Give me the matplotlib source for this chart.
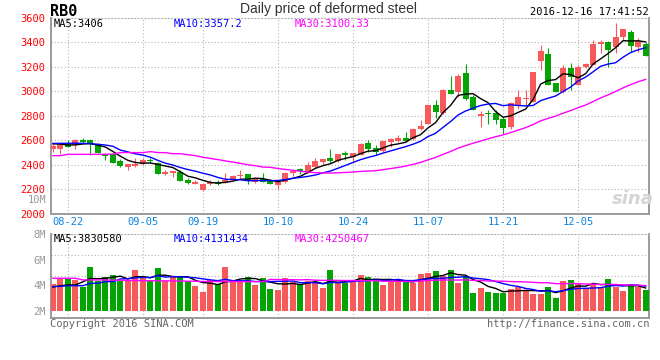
import numpy as np
import pandas as pd
import matplotlib
matplotlib.use('Agg')
import matplotlib.pyplot as plt

# trading days shown: 2016-08-18 .. 2016-12-16 (exchange closed for mid-autumn and national day)
holidays = ['2016-09-15', '2016-09-16', '2016-10-03', '2016-10-04',
            '2016-10-05', '2016-10-06', '2016-10-07']
days = pd.bdate_range('2016-08-18', '2016-12-16')
days = days[~days.isin(pd.to_datetime(holidays))]

tick_labels = ['08-22', '09-05', '09-19', '10-10', '10-24', '11-07', '11-21', '12-05']

opens = [2527, 2527, 2568, 2560, 2603, 2600, 2568, 2492, 2486, 2429,
         2383, 2388, 2404, 2437, 2418, 2325, 2333, 2341, 2273, 2246,
         2192, 2241, 2262, 2251, 2279, 2309, 2322, 2260, 2287, 2276,
         2232, 2262, 2336, 2364, 2342, 2383, 2423, 2456, 2429, 2497,
         2464, 2483, 2576, 2538, 2511, 2587, 2595, 2620, 2609, 2691,
         2731, 2887, 2824, 3009, 2996, 3148, 2952, 2800, 2824, 2824,
         2778, 2710, 2887, 2941, 2916, 3248, 3303, 3066, 2993, 3194,
         3052, 3197, 3216, 3390, 3401, 3366, 3447, 3488, 3366, 3385]
highs = [2573, 2570, 2600, 2614, 2620, 2614, 2576, 2495, 2490, 2451,
         2404, 2459, 2459, 2459, 2420, 2355, 2350, 2355, 2295, 2279,
         2243, 2279, 2279, 2333, 2316, 2355, 2325, 2292, 2330, 2285,
         2262, 2340, 2352, 2377, 2421, 2453, 2447, 2527, 2490, 2511,
         2500, 2581, 2600, 2565, 2597, 2622, 2641, 2668, 2702, 2764,
         2892, 2933, 3022, 3124, 3140, 3222, 2968, 2838, 2846, 2846,
         2797, 2914, 3009, 3009, 3160, 3379, 3352, 3068, 3216, 3229,
         3216, 3229, 3420, 3420, 3412, 3556, 3507, 3502, 3439, 3401]
lows = [2505, 2486, 2542, 2532, 2581, 2483, 2498, 2443, 2416, 2383,
        2355, 2383, 2398, 2418, 2326, 2315, 2300, 2266, 2241, 2244,
        2183, 2232, 2232, 2250, 2277, 2295, 2246, 2251, 2258, 2241,
        2202, 2255, 2306, 2328, 2334, 2375, 2396, 2415, 2427, 2442,
        2429, 2481, 2505, 2478, 2509, 2546, 2587, 2590, 2601, 2688,
        2731, 2783, 2819, 2979, 2955, 2930, 2851, 2710, 2737, 2731,
        2655, 2696, 2860, 2887, 2910, 3175, 3050, 2993, 2990, 3012,
        3050, 3189, 3214, 3311, 3202, 3311, 3420, 3325, 3325, 3292]
closes = [2551, 2568, 2546, 2600, 2587, 2570, 2500, 2472, 2418, 2391,
          2404, 2410, 2443, 2429, 2328, 2342, 2347, 2268, 2251, 2260,
          2241, 2262, 2243, 2279, 2311, 2317, 2268, 2281, 2260, 2243,
          2260, 2337, 2350, 2347, 2396, 2429, 2445, 2429, 2486, 2478,
          2497, 2568, 2530, 2505, 2592, 2609, 2619, 2598, 2691, 2715,
          2887, 2832, 3015, 2979, 3126, 2938, 2851, 2813, 2813, 2764,
          2704, 2906, 2955, 2949, 3156, 3333, 3052, 2993, 3189, 3120,
          3202, 3221, 3387, 3401, 3338, 3442, 3507, 3371, 3412, 3292]
# volume, millions
volume = [4.10, 4.47, 4.47, 4.42, 3.90, 5.43, 4.34, 4.65, 4.81, 4.34,
          4.34, 5.19, 4.73, 4.34, 5.35, 4.34, 4.65, 4.65, 4.34, 3.95,
          3.48, 4.42, 4.10, 5.43, 4.26, 4.26, 4.65, 4.03, 4.57, 3.71,
          3.64, 4.57, 4.26, 4.10, 4.34, 4.18, 3.79, 5.20, 4.24, 4.16,
          4.29, 4.81, 4.65, 4.49, 4.03, 4.34, 4.42, 4.34, 4.16, 4.88,
          4.96, 5.12, 4.73, 5.20, 4.18, 4.73, 3.40, 3.79, 3.48, 3.40,
          3.40, 3.71, 3.87, 3.64, 3.32, 3.32, 3.87, 3.01, 4.34, 4.42,
          4.10, 3.79, 4.10, 3.87, 4.49, 3.87, 3.56, 4.03, 3.87, 3.64]

# moving-average values for the first days (history not shown)
ma5_head = [2572, 2570, 2562, 2563]
ma10_head = [2575, 2576, 2576, 2577, 2576, 2573, 2568, 2562, 2552]
ma30_head = [2475, 2475, 2486, 2486, 2486, 2486, 2486, 2486, 2488, 2500,
             2500, 2500, 2500, 2508, 2500, 2500, 2491, 2491, 2483, 2475,
             2462, 2452, 2443, 2432, 2423, 2412, 2401, 2393, 2382]
vma5_head = [3.87, 3.97, 4.03, 4.03]
vma10_head = [3.90, 3.92, 3.97, 3.97, 3.97, 4.16, 4.16, 4.29, 4.29]
vma30_head = [4.55, 4.55, 4.55, 4.55, 4.42, 4.42, 4.42, 4.42, 4.40, 4.40,
              4.38, 4.38, 4.36, 4.36, 4.35, 4.35, 4.34, 4.34, 4.32, 4.32,
              4.30, 4.30, 4.30, 4.30, 4.29, 4.29, 4.29, 4.29, 4.29]


def moving_avg(vals, n, head):
    s = pd.Series(vals, dtype=float).rolling(n).mean().to_numpy()
    s[:n - 1] = head
    return s


RED = '#f65a5a'
GREEN = '#04a404'
GRID = '#b4b4b4'
MONO = 'DejaVu Sans Mono'
W, H = 660, 360


def px(x, y):
    return x / W, 1 - y / H


x = np.arange(len(closes))
o = np.array(opens, dtype=float)
c = np.array(closes, dtype=float)
up = c > o
colors = np.where(up, RED, GREEN)

fig = plt.figure(figsize=(6.6, 3.6), dpi=100, facecolor='white')
ax = fig.add_axes([51 / W, 1 - 213.8 / H, 598 / W, 195.8 / H])
axv = fig.add_axes([51 / W, 1 - 318 / H, 598 / W, 84 / H])

# candles
ax.vlines(x, lows, highs, colors=colors, linewidth=0.8, zorder=3)
body = np.maximum(np.abs(c - o), 6)
ax.bar(x, body, bottom=np.minimum(o, c), width=0.8, color=colors,
       linewidth=0, zorder=4)

ax.plot(x, moving_avg(closes, 5, ma5_head), color='black', lw=1.0, zorder=5)
ax.plot(x, moving_avg(closes, 10, ma10_head), color='#0000ff', lw=1.0, zorder=5)
ax.plot(x, moving_avg(closes, 30, ma30_head), color='#ff00ff', lw=1.0, zorder=5)

# volume
axv.bar(x, np.array(volume) - 2, bottom=2, width=0.8, color=colors,
        linewidth=0, zorder=3)
axv.plot(x, moving_avg(volume, 5, vma5_head), color='black', lw=1.0, zorder=5)
axv.plot(x, moving_avg(volume, 10, vma10_head), color='#0000ff', lw=1.0, zorder=5)
axv.plot(x, moving_avg(volume, 30, vma30_head), color='#ff00ff', lw=1.0, zorder=5)

labels = list(days.strftime('%m-%d'))
tick_pos = [labels.index(t) for t in tick_labels]

for a in (ax, axv):
    a.set_xlim(-0.25, len(closes) - 0.55)
    a.set_xticks(tick_pos)
    for v in tick_pos:
        a.axvline(v, color=GRID, lw=0.8, ls=(0, (1, 2)), zorder=1)
    for side in ('left', 'right', 'bottom'):
        a.spines[side].set_color('#9a9a9a')
        a.spines[side].set_linewidth(1.4)
    a.spines['top'].set_color(GRID)
    a.spines['top'].set_linewidth(0.8)
    a.spines['top'].set_linestyle((0, (1, 2)))
    a.tick_params(length=0)

ax.set_ylim(2000, 3600)
ax.set_yticks(range(2000, 3601, 200))
for v in range(2200, 3401, 200):
    ax.axhline(v, color=GRID, lw=0.8, ls=(0, (1, 2)), zorder=1)
ax.tick_params(axis='y', labelcolor='#ff0000', labelsize=7.5, pad=4)
ax.tick_params(axis='x', labelcolor='#0a84e0', labelsize=7.5, pad=2.5)
ax.set_xticklabels(tick_labels)
for t in ax.get_xticklabels() + ax.get_yticklabels():
    t.set_fontfamily(MONO)

axv.set_ylim(2 - 7 / 12.83, 8)
axv.set_yticks([2, 4, 6, 8])
axv.set_yticklabels(['2M', '4M', '6M', '8M'])
axv.tick_params(axis='y', labelcolor='#999999', labelsize=7.5, pad=4)
axv.set_xticklabels([])
for t in axv.get_yticklabels():
    t.set_fontfamily(MONO)
for f in (0.25, 0.5, 0.75):
    axv.axhline(2 - 7 / 12.83 + f * (6 + 7 / 12.83), color=GRID, lw=0.8,
                ls=(0, (1, 2)), zorder=1)

# texts
fig.text(*px(329, 9), 'Daily price of deformed steel', ha='center', va='center',
         fontsize=10, color='#333333', family='Liberation Sans')
fig.text(*px(50, 11), 'RB0', ha='left', va='center', fontsize=11,
         fontweight='bold', family=MONO, color='black')
fig.text(*px(649, 12), '2016-12-16 17:41:52', ha='right', va='center',
         fontsize=7.5, family=MONO, color='black')

for xp, s, col in [(54, 'MA5:3406', 'black'), (174, 'MA10:3357.2', '#0000ff'),
                   (295, 'MA30:3100.33', '#ff00ff')]:
    fig.text(*px(xp, 24), s, ha='left', va='center', fontsize=7.5, family=MONO, color=col)
for xp, s, col in [(54, 'MA5:3830580', 'black'), (174, 'MA10:4131434', '#0000ff'),
                   (295, 'MA30:4250467', '#ff00ff')]:
    fig.text(*px(xp, 239), s, ha='left', va='center', fontsize=7.5, family=MONO, color=col)

fig.text(*px(46, 200), '10M', ha='right', va='center', fontsize=7.5,
         family=MONO, color='#999999')
fig.text(*px(50, 324), 'Copyright 2016 SINA.COM', ha='left', va='center',
         fontsize=7.5, family=MONO, color='#666666')
fig.text(*px(649, 324), 'http://finance.sina.com.cn', ha='right', va='center',
         fontsize=7.5, family=MONO, color='#666666')
fig.text(*px(633, 199), 'sina', ha='center', va='center', fontsize=13,
         fontstyle='italic', fontweight='bold', color='#d4d4d4', zorder=0)

fig.savefig('out.png', dpi=100, facecolor='white')
